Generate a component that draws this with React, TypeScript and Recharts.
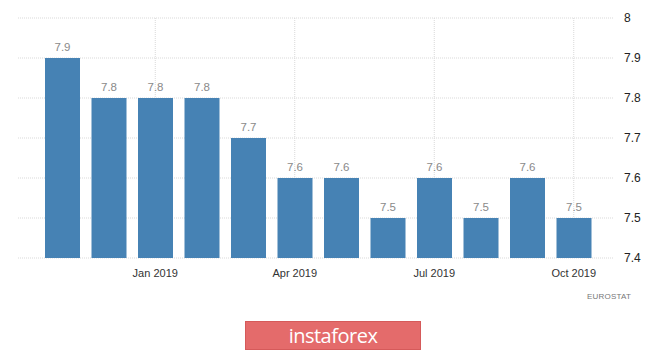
import { BarChart, Bar, XAxis, YAxis, CartesianGrid, LabelList } from 'recharts';

const months = [
  'Nov 2018', 'Dec 2018', 'Jan 2019', 'Feb 2019', 'Mar 2019', 'Apr 2019',
  'May 2019', 'Jun 2019', 'Jul 2019', 'Aug 2019', 'Sep 2019', 'Oct 2019',
];
const rates = [7.9, 7.8, 7.8, 7.8, 7.7, 7.6, 7.6, 7.5, 7.6, 7.5, 7.6, 7.5];
const monthTicks = ['Jan 2019', 'Apr 2019', 'Jul 2019', 'Oct 2019'];
const rateTicks = [7.4, 7.5, 7.6, 7.7, 7.8, 7.9, 8];

const data = months.map((month, i) => ({ month, rate: rates[i] }));

const font = '"Liberation Sans", Arial, sans-serif';
const padL = 21;
const padR = 17;

// vertical grid only at the labelled months, not at the plot edges
const monthLines = ({ xAxis, offset }: any) => {
  const scale = xAxis?.scale;
  if (typeof scale === 'function' && typeof scale.bandwidth === 'function') {
    return monthTicks.map((m) => scale(m) + scale.bandwidth() / 2);
  }
  const band = (offset.width - padL - padR) / months.length;
  return monthTicks.map((m) => offset.left + padL + band * (months.indexOf(m) + 0.5));
};

export default function App() {
  return (
    <div style={{ position: 'absolute', left: 0, top: 0, width: 665, height: 352, background: '#fff', fontFamily: font }}>
      <BarChart
        width={665}
        height={290}
        data={data}
        margin={{ top: 18, right: 0, bottom: 2, left: 18 }}
      >
        <CartesianGrid stroke="#d9d9d9" strokeDasharray="1 1" verticalCoordinatesGenerator={monthLines} />
        <XAxis
          dataKey="month"
          ticks={monthTicks}
          axisLine={false}
          tickLine={false}
          tickMargin={5}
          padding={{ left: padL, right: padR }}
          height={30}
          tick={{ fill: '#333', fontSize: 11, fontFamily: font }}
        />
        <YAxis
          orientation="right"
          domain={[7.4, 8]}
          ticks={rateTicks}
          allowDataOverflow
          axisLine={false}
          tickLine={false}
          tickMargin={4}
          width={51}
          tick={{ fill: '#222', fontSize: 12, fontFamily: font, textAnchor: 'start' }}
        />
        <Bar dataKey="rate" fill="#4682b4" barSize={35} isAnimationActive={false}>
          <LabelList dataKey="rate" position="top" offset={7} fill="#8a8a8a" fontSize={11.5} fontFamily={font} />
        </Bar>
      </BarChart>
      <div style={{ position: 'absolute', left: 587, top: 292, fontSize: 8, color: '#777', letterSpacing: 0.2 }}>
        EUROSTAT
      </div>
      <div
        style={{
          position: 'absolute', left: 245, top: 321, width: 176, height: 29,
          background: '#e46b6b', border: '1px solid #d55a5a', boxSizing: 'border-box',
          color: '#fff', fontFamily: '"Open Sans", sans-serif', fontSize: 20,
          display: 'flex', alignItems: 'center', justifyContent: 'center', letterSpacing: -0.5,
        }}
      >
        instaforex
      </div>
    </div>
  );
}
